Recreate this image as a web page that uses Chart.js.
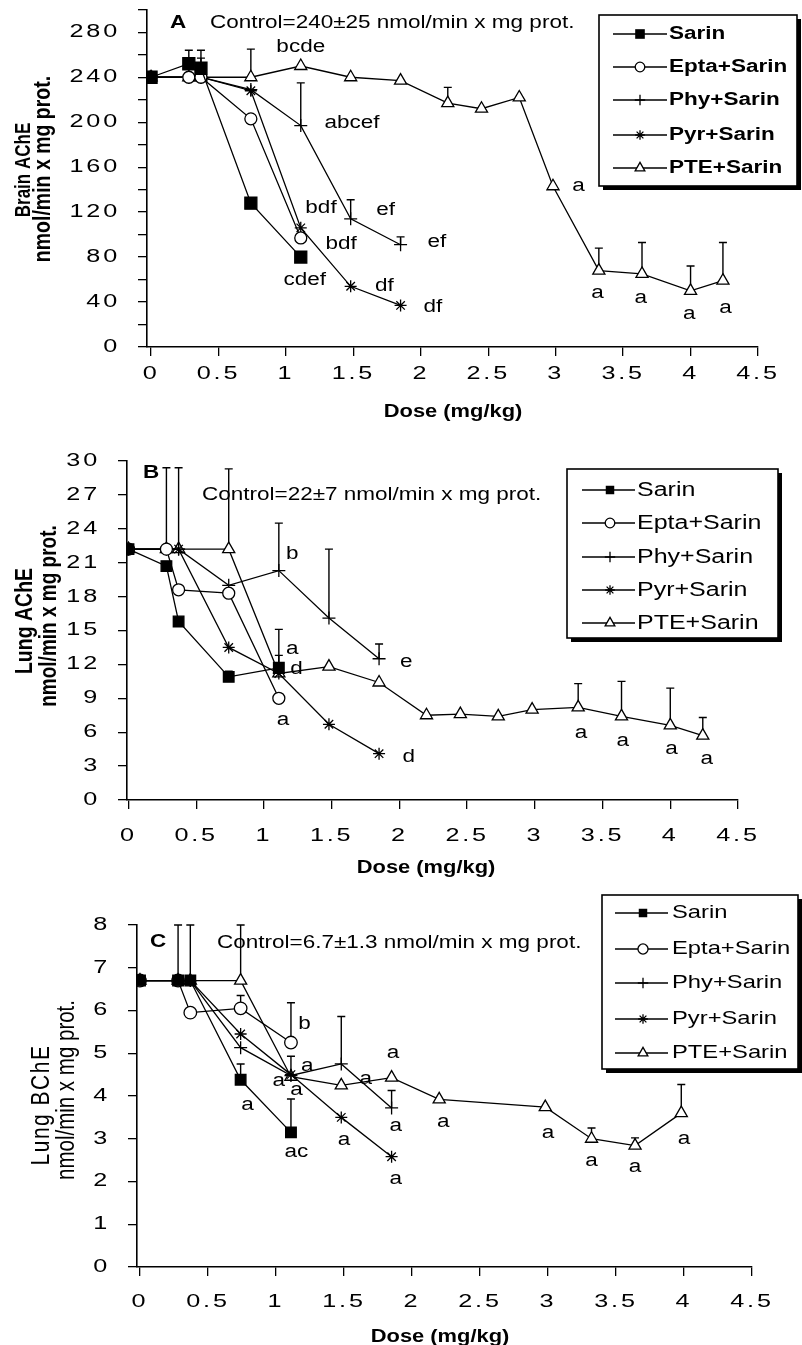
<!DOCTYPE html>
<html><head><meta charset="utf-8">
<script src="https://cdn.jsdelivr.net/npm/chart.js@4.4.1/dist/chart.umd.min.js"></script>
<style>
html,body{margin:0;padding:0;background:#fff;}
#wrap{position:relative;width:802px;height:1345px;overflow:hidden;background:#fff;}
canvas{position:absolute;left:0;}
</style></head><body>
<div id="wrap">
<canvas id="cA" width="802" height="440" style="top:0;width:802px;height:440px"></canvas>
<canvas id="cB" width="802" height="440" style="top:440px;width:802px;height:440px"></canvas>
<canvas id="cC" width="802" height="465" style="top:880px;width:802px;height:465px"></canvas>
</div>
<script>
// ---------------- DATA ----------------
const seriesNames = ['Sarin', 'Epta+Sarin', 'Phy+Sarin', 'Pyr+Sarin', 'PTE+Sarin'];

const doseShort = [0, 0.28, 0.37, 0.74, 1.11];
const doseMid = [0, 0.28, 0.37, 0.74, 1.11, 1.48, 1.85];
const dosePteAB = [0, 0.28, 0.37, 0.74, 1.11, 1.48, 1.85, 2.2, 2.45, 2.73, 2.98, 3.32, 3.64, 4.0, 4.24];
const dosePteC = [0, 0.28, 0.37, 0.74, 1.11, 1.48, 1.85, 2.2, 2.98, 3.32, 3.64, 3.98];

// Panel A: Brain AChE
const brainSarin = [240, 252, 248, 128, 80];
const brainSarinTop = [null, 264, 264, null, null];
const brainEpta = [240, 240, 240, 203, 97];
const brainPhy = [240, 240, 240, 229, 197, 114, 91];
const brainPhyTop = [null, null, 257, null, 235, 131, 98];
const brainPyr = [240, 240, 240, 228, 106, 54, 37];
const brainPte = [240, 240, 240, 240, 250, 240, 237, 217, 212, 222, 143, 68, 65, 50, 59];
const brainPteTop = [null, null, null, 265, null, null, null, 231, null, null, null, 88, 93, 72, 93];
const brainNoteText = ['bcde', 'abcef', 'bdf', 'ef', 'bdf', 'cdef', 'df', 'ef', 'df', 'a', 'a', 'a', 'a', 'a'];
const brainNoteX = [1.11, 1.49, 1.26, 1.74, 1.41, 1.14, 1.73, 2.12, 2.09, 3.17, 3.31, 3.63, 3.99, 4.26];
const brainNoteY = [267, 199, 124, 122, 92, 60, 54, 93, 36, 143, 48, 44, 29, 35];

// Panel B: Lung AChE
const lungSarin = [22.2, 20.7, 15.8, 10.9, 11.7];
const lungSarinTop = [null, null, null, 11.4, 12.8];
const lungEpta = [22.2, 22.2, 18.6, 18.3, 9.0];
const lungPhy = [22.2, 22.2, 22.2, 19.0, 20.3, 16.1, 12.5];
const lungPhyTop = [null, null, null, null, 24.5, 22.2, 13.8];
const lungPyr = [22.2, 22.2, 22.2, 13.5, 11.2, 6.7, 4.1];
const lungPte = [22.2, 22.2, 22.2, 22.2, 11.2, 11.8, 10.4, 7.5, 7.6, 7.4, 8.0, 8.2, 7.4, 6.6, 5.7];
const lungPteTop = [null, 29.4, 29.4, 29.3, 15.1, null, null, null, null, null, null, 10.3, 10.5, 9.9, 7.3];
const lungNoteText = ['b', 'a', 'd', 'a', 'e', 'd', 'a', 'a', 'a', 'a'];
const lungNoteX = [1.21, 1.21, 1.24, 1.14, 2.05, 2.07, 3.34, 3.65, 4.01, 4.27];
const lungNoteY = [21.8, 13.4, 11.6, 7.1, 12.2, 3.8, 5.9, 5.2, 4.5, 3.6];

// Panel C: Lung BChE
const bcheSarin = [6.7, 6.7, 6.7, 4.38, 3.15];
const bcheSarinTop = [null, null, null, 4.75, 3.93];
const bcheEpta = [6.7, 6.7, 5.95, 6.05, 5.25];
const bcheEptaTop = [null, null, null, 6.35, 6.18];
const bchePhy = [6.7, 6.7, 6.7, 5.13, 4.48, 4.75, 3.72];
const bchePhyTop = [null, null, null, null, 4.93, 5.86, 4.13];
const bchePyr = [6.7, 6.7, 6.7, 5.45, 4.5, 3.5, 2.58];
const bchePte = [6.7, 6.7, 6.7, 6.7, 4.45, 4.25, 4.43, 3.92, 3.74, 3.0, 2.84, 3.6];
const bchePteTop = [null, 8, 8, 8, null, null, null, null, null, 3.25, 3.02, 4.27];
const bcheNoteText = ['b', 'a', 'a', 'a', 'a', 'ac', 'a', 'a', 'a', 'a', 'a', 'a', 'a', 'a', 'a', 'a'];
const bcheNoteX = [1.21, 1.23, 1.02, 1.15, 0.79, 1.15, 1.50, 1.86, 1.66, 1.88, 1.88, 2.23, 3.0, 3.32, 3.64, 4.0];
const bcheNoteY = [5.68, 4.70, 4.34, 4.13, 3.79, 2.70, 2.97, 5.0, 4.40, 3.29, 2.06, 3.38, 3.13, 2.47, 2.34, 2.99];

// ---------------- DRAWING HELPERS ----------------
const FONT = '"Liberation Sans", Arial, Helvetica, sans-serif';
const SX = 1.25;        // horizontal stretch of the scanned lettering
const TICK_SX = 1.4;    // stretch of tick-label digits
const TICK_SP = 2;      // extra spacing between tick-label digits

function txt(ctx, s, x, y, o) {
  ctx.save();
  ctx.font = (o.weight || 'normal') + ' ' + o.size + 'px ' + FONT;
  ctx.letterSpacing = (o.sp || 0) + 'px';
  ctx.fillStyle = '#000';
  ctx.textBaseline = 'middle';
  ctx.textAlign = o.align || 'left';
  ctx.translate(x, y);
  if (o.rot) {
    ctx.rotate(o.rot);
    ctx.scale(1, SX);
  } else {
    ctx.scale(SX, 1);
  }
  ctx.fillText(s, 0, 0);
  ctx.restore();
}

function marker(ctx, style, x, y, r) {
  ctx.save();
  ctx.strokeStyle = '#000';
  ctx.lineWidth = 1.3;
  ctx.beginPath();
  if (style === 'rect') {
    const s = r * Math.SQRT1_2;
    ctx.fillStyle = '#000';
    ctx.fillRect(x - s, y - s, 2 * s, 2 * s);
  } else if (style === 'circle') {
    ctx.fillStyle = '#fff';
    ctx.arc(x, y, r, 0, Math.PI * 2);
    ctx.fill(); ctx.stroke();
  } else if (style === 'triangle') {
    ctx.fillStyle = '#fff';
    let a = 0;
    ctx.moveTo(x + Math.sin(a) * r, y - Math.cos(a) * r);
    a += 2 * Math.PI / 3;
    ctx.lineTo(x + Math.sin(a) * r, y - Math.cos(a) * r);
    a += 2 * Math.PI / 3;
    ctx.lineTo(x + Math.sin(a) * r, y - Math.cos(a) * r);
    ctx.closePath();
    ctx.fill(); ctx.stroke();
  } else if (style === 'cross') {
    ctx.moveTo(x, y - r); ctx.lineTo(x, y + r);
    ctx.moveTo(x - r, y); ctx.lineTo(x + r, y);
    ctx.stroke();
  } else if (style === 'star') {
    ctx.moveTo(x, y - r); ctx.lineTo(x, y + r);
    ctx.moveTo(x - r, y); ctx.lineTo(x + r, y);
    const d = r * Math.SQRT1_2;
    ctx.moveTo(x - d, y - d); ctx.lineTo(x + d, y + d);
    ctx.moveTo(x - d, y + d); ctx.lineTo(x + d, y - d);
    ctx.stroke();
  }
  ctx.restore();
}

function ds(label, xs, ys, top, style, radius) {
  const filled = style === 'rect';
  return {
    label: label,
    data: ys.map((v, i) => ({ x: xs[i], y: v })),
    errTop: top,
    pointStyle: style,
    pointRadius: radius,
    pointHoverRadius: radius,
    pointBorderWidth: 1.3,
    pointBackgroundColor: filled ? '#000' : '#fff',
    pointBorderColor: '#000',
    borderColor: '#000',
    backgroundColor: filled ? '#000' : '#fff',
    borderWidth: 1.3,
    showLine: true,
    fill: false,
    tension: 0
  };
}

// stretch the library's own tick labels horizontally like the scanned figure
function stretchTicks(scale) {
  if (scale._stretched) return;
  scale._stretched = true;
  const origGet = scale.getLabelItems.bind(scale);
  scale.getLabelItems = function (ca) {
    return origGet(ca).map(it => Object.assign({}, it, {
      options: Object.assign({}, it.options, {
        translation: [it.options.translation[0] / TICK_SX, it.options.translation[1]]
      })
    }));
  };
  const origDraw = scale.drawLabels.bind(scale);
  scale.drawLabels = function (ca) {
    const c = this.ctx;
    c.save();
    c.scale(TICK_SX, 1);
    c.letterSpacing = TICK_SP + 'px';
    origDraw(ca);
    c.restore();
  };
}

function makeDeco(cfg) {
  return {
    id: 'deco',
    beforeDraw(chart) {
      stretchTicks(chart.scales.x);
      stretchTicks(chart.scales.y);
    },
    beforeDatasetsDraw(chart) {
      const ctx = chart.ctx, xs = chart.scales.x, ys = chart.scales.y;
      ctx.save();
      ctx.strokeStyle = '#000';
      ctx.lineWidth = 1.4;
      chart.data.datasets.forEach(d => {
        if (!d.errTop) return;
        d.errTop.forEach((t, i) => {
          if (t == null) return;
          const px = xs.getPixelForValue(d.data[i].x);
          const p0 = ys.getPixelForValue(d.data[i].y);
          const p1 = ys.getPixelForValue(t);
          ctx.beginPath();
          ctx.moveTo(px, p0); ctx.lineTo(px, p1);
          ctx.moveTo(px - 4, p1); ctx.lineTo(px + 4, p1);
          ctx.stroke();
        });
      });
      ctx.restore();
    },
    afterDraw(chart) {
      const ctx = chart.ctx, xs = chart.scales.x, ys = chart.scales.y;
      ctx.save();
      cfg.noteText.forEach((s, i) => {
        txt(ctx, s, xs.getPixelForValue(cfg.noteX[i]), ys.getPixelForValue(cfg.noteY[i]), { size: 18, align: 'center' });
      });
      txt(ctx, cfg.letter, cfg.letterPos[0], cfg.letterPos[1], { size: 18, weight: 'bold' });
      txt(ctx, cfg.control, cfg.controlPos[0], cfg.controlPos[1], { size: 18 });
      txt(ctx, 'Dose (mg/kg)', cfg.xTitlePos[0], cfg.xTitlePos[1], { size: 17.5, weight: 'bold', align: 'center' });
      cfg.yTitle.forEach(t => txt(ctx, t.s, t.x, t.y, { size: t.size, weight: t.w, sp: t.sp, align: 'center', rot: -Math.PI / 2 }));
      const L = cfg.legend;
      ctx.fillStyle = '#000';
      ctx.fillRect(L.x + 4, L.y + 4, L.w, L.h);
      ctx.fillStyle = '#fff';
      ctx.fillRect(L.x, L.y, L.w, L.h);
      ctx.strokeStyle = '#000';
      ctx.lineWidth = 1.6;
      ctx.strokeRect(L.x, L.y, L.w, L.h);
      chart.data.datasets.forEach((d, i) => {
        const y = L.rows[i];
        ctx.beginPath();
        ctx.strokeStyle = '#000';
        ctx.lineWidth = 1.3;
        ctx.moveTo(L.lx0, y); ctx.lineTo(L.lx1, y);
        ctx.stroke();
        marker(ctx, d.pointStyle, L.mx, y, d.pointRadius * 0.8);
        txt(ctx, d.label, L.tx, y, { size: L.size, weight: L.weight });
      });
      ctx.restore();
    }
  };
}

function makeChart(id, cfg) {
  const W = 802;
  const a = cfg.area;
  const tickFont = { family: FONT, size: 18, weight: 'normal' };
  new Chart(document.getElementById(id), {
    type: 'scatter',
    data: { datasets: cfg.datasets },
    plugins: [makeDeco(cfg)],
    options: {
      responsive: false,
      animation: false,
      events: [],
      layout: { padding: { top: a.top, right: W - a.right, left: 0, bottom: 0 } },
      plugins: { legend: { display: false }, tooltip: { enabled: false } },
      scales: {
        x: {
          type: 'linear', min: cfg.xmin, max: 4.5,
          ticks: {
            stepSize: 0.5, includeBounds: false, autoSkip: false, maxRotation: 0, minRotation: 0,
            padding: cfg.xPad, color: '#000', font: tickFont,
            callback: v => String(Math.round(v * 100) / 100)
          },
          grid: { drawOnChartArea: false, drawTicks: true, tickLength: 9, color: '#000', lineWidth: 1.3 },
          border: { display: true, color: '#000', width: 1.6 },
          afterFit: s => { s.height = a.h - a.bottom; s.paddingLeft = 0; s.paddingRight = 0; s.paddingTop = 0; s.paddingBottom = 0; }
        },
        y: {
          type: 'linear', min: 0, max: cfg.ymax,
          ticks: {
            stepSize: cfg.ystep, autoSkip: false, includeBounds: false,
            padding: cfg.yPad, color: '#000', font: tickFont,
            callback: v => (Math.abs(v / cfg.yEvery - Math.round(v / cfg.yEvery)) < 1e-6 ? String(v) : '')
          },
          grid: { drawOnChartArea: false, drawTicks: true, tickLength: 9, color: '#000', lineWidth: 1.3 },
          border: { display: true, color: '#000', width: 1.6 },
          afterFit: s => { s.width = a.left; s.paddingLeft = 0; s.paddingRight = 0; s.paddingTop = 0; s.paddingBottom = 0; }
        }
      }
    }
  });
}

// ---------------- PANELS ----------------
makeChart('cA', {
  datasets: [
    ds(seriesNames[0], doseShort, brainSarin, brainSarinTop, 'rect', 8.5),
    ds(seriesNames[1], doseShort, brainEpta, null, 'circle', 6),
    ds(seriesNames[2], doseMid, brainPhy, brainPhyTop, 'cross', 6.5),
    ds(seriesNames[3], doseMid, brainPyr, null, 'star', 6),
    ds(seriesNames[4], dosePteAB, brainPte, brainPteTop, 'triangle', 7)
  ],
  area: { left: 147, right: 758, top: 6, bottom: 347, h: 440 },
  xmin: -0.03, ymax: 300, ystep: 20, yEvery: 40, xPad: 7, yPad: 18,
  noteText: brainNoteText, noteX: brainNoteX, noteY: brainNoteY,
  letter: 'A', letterPos: [170, 23],
  control: 'Control=240±25 nmol/min x mg prot.', controlPos: [210, 23],
  xTitlePos: [453, 412],
  yTitle: [
    { s: 'Brain AChE', x: 24, y: 170, size: 17, w: 'bold', sp: 0 },
    { s: 'nmol/min x mg prot.', x: 43, y: 169, size: 19.5, w: 'bold', sp: 0 }
  ],
  legend: { x: 599, y: 15, w: 198, h: 171, rows: [34, 67, 100, 135, 168], lx0: 613, lx1: 667, mx: 640, tx: 669, size: 18, weight: 'bold' }
});

makeChart('cB', {
  datasets: [
    ds(seriesNames[0], doseShort, lungSarin, lungSarinTop, 'rect', 7.5),
    ds(seriesNames[1], doseShort, lungEpta, null, 'circle', 6),
    ds(seriesNames[2], doseMid, lungPhy, lungPhyTop, 'cross', 6.5),
    ds(seriesNames[3], doseMid, lungPyr, null, 'star', 6),
    ds(seriesNames[4], dosePteAB, lungPte, lungPteTop, 'triangle', 7)
  ],
  area: { left: 127, right: 738, top: 21, bottom: 360, h: 440 },
  xmin: -0.011, ymax: 30, ystep: 3, yEvery: 3, xPad: 16, yPad: 18,
  noteText: lungNoteText, noteX: lungNoteX, noteY: lungNoteY,
  letter: 'B', letterPos: [143, 33],
  control: 'Control=22±7 nmol/min x mg prot.', controlPos: [202, 55],
  xTitlePos: [426, 428],
  yTitle: [
    { s: 'Lung AChE', x: 25, y: 181, size: 19.5, w: 'bold', sp: 0 },
    { s: 'nmol/min x mg prot.', x: 49, y: 176, size: 19, w: 'bold', sp: 0 }
  ],
  legend: { x: 567, y: 29, w: 211, h: 169, rows: [50, 83, 117, 150, 183], lx0: 582, lx1: 635, mx: 610, tx: 637, size: 20, weight: 'normal' }
});

makeChart('cC', {
  datasets: [
    ds(seriesNames[0], doseShort, bcheSarin, bcheSarinTop, 'rect', 7.5),
    ds(seriesNames[1], doseShort, bcheEpta, bcheEptaTop, 'circle', 6.3),
    ds(seriesNames[2], doseMid, bchePhy, bchePhyTop, 'cross', 6.5),
    ds(seriesNames[3], doseMid, bchePyr, null, 'star', 6),
    ds(seriesNames[4], dosePteC, bchePte, bchePteTop, 'triangle', 7)
  ],
  area: { left: 137, right: 752, top: 45, bottom: 387, h: 465 },
  xmin: -0.022, ymax: 8, ystep: 1, yEvery: 1, xPad: 15, yPad: 18,
  noteText: bcheNoteText, noteX: bcheNoteX, noteY: bcheNoteY,
  letter: 'C', letterPos: [150, 62],
  control: 'Control=6.7±1.3 nmol/min x mg prot.', controlPos: [217, 63],
  xTitlePos: [440, 457],
  yTitle: [
    { s: 'Lung BChE', x: 42, y: 225, size: 21, w: 'normal', sp: 1.5 },
    { s: 'nmol/min x mg prot.', x: 67, y: 210, size: 20.5, w: 'normal', sp: 0 }
  ],
  legend: { x: 602, y: 15, w: 196, h: 174, rows: [33, 69, 103, 139, 173], lx0: 615, lx1: 668, mx: 643, tx: 672, size: 19, weight: 'normal' }
});
</script>
</body></html>
